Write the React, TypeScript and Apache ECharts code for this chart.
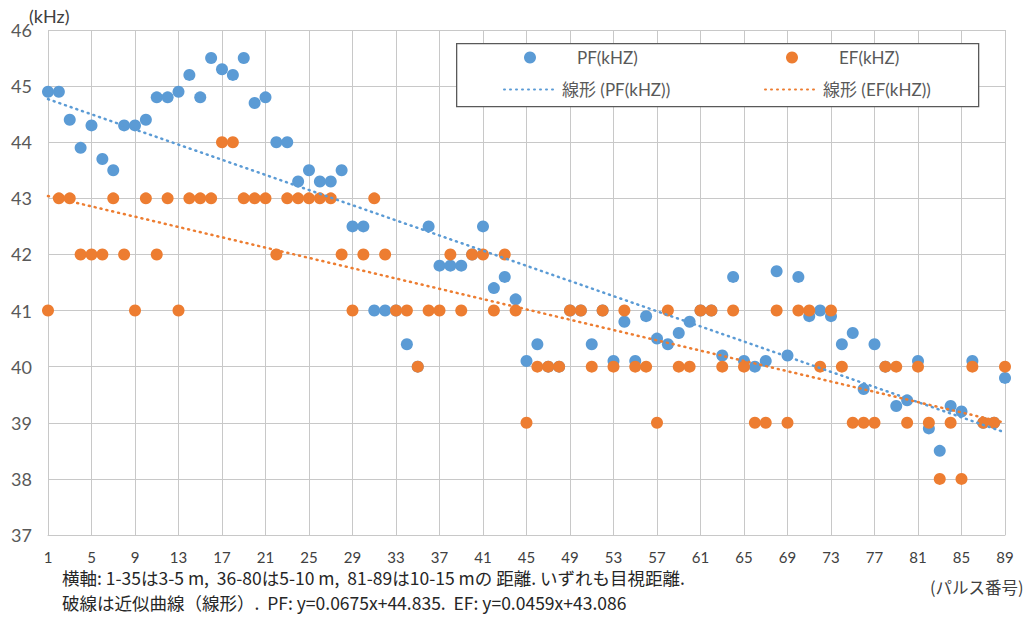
import React, { useEffect, useRef } from "react";
import * as echarts from "echarts";

// Pulse numbers (x categories)
const pulseLabels: string[] = Array.from({ length: 89 }, (_, i) => String(i + 1));

// PF (kHz) per pulse
const pfValues: number[] = [
  44.9, 44.9, 44.4, 43.9, 44.3, 43.7, 43.5, 44.3, 44.3, 44.4,
  44.8, 44.8, 44.9, 45.2, 44.8, 45.5, 45.3, 45.2, 45.5, 44.7,
  44.8, 44.0, 44.0, 43.3, 43.5, 43.3, 43.3, 43.5, 42.5, 42.5,
  41.0, 41.0, 41.0, 40.4, 40.0, 42.5, 41.8, 41.8, 41.8, 42.0,
  42.5, 41.4, 41.6, 41.2, 40.1, 40.4, 40.0, 40.0, 41.0, 41.0,
  40.4, 41.0, 40.1, 40.8, 40.1, 40.9, 40.5, 40.4, 40.6, 40.8,
  41.0, 41.0, 40.2, 41.6, 40.1, 40.0, 40.1, 41.7, 40.2, 41.6,
  40.9, 41.0, 40.9, 40.4, 40.6, 39.6, 40.4, 40.0, 39.3, 39.4,
  40.1, 38.9, 38.5, 39.3, 39.2, 40.1, 39.0, 39.0, 39.8,
];

// EF (kHz) per pulse
const efValues: number[] = [
  41, 43, 43, 42, 42, 42, 43, 42, 41, 43,
  42, 43, 41, 43, 43, 43, 44, 44, 43, 43,
  43, 42, 43, 43, 43, 43, 43, 42, 41, 42,
  43, 42, 41, 41, 40, 41, 41, 42, 41, 42,
  42, 41, 42, 41, 39, 40, 40, 40, 41, 41,
  40, 41, 40, 41, 40, 40, 39, 41, 40, 40,
  41, 41, 40, 41, 40, 39, 39, 41, 39, 41,
  41, 40, 41, 40, 39, 39, 39, 40, 40, 39,
  40, 39, 38, 39, 38, 40, 39, 39, 40,
];

// Linear trend coefficients (slope, intercept) as stated in the footnote
const pfTrend = [-0.0675, 44.835];
const efTrend = [-0.0459, 43.086];

const yTicks = { min: 37, max: 46, interval: 1 };

const seriesNames = ["PF(kHZ)", "EF(kHZ)", "線形 (PF(kHZ))", "線形 (EF(kHZ))"];

const noteLine1 = "横軸: 1-35は3-5 m,  36-80は5-10 m,  81-89は10-15 mの 距離. いずれも目視距離.";
const noteLine2 = "破線は近似曲線（線形）.  PF: y=0.0675x+44.835.  EF: y=0.0459x+43.086";
const yUnit = "(kHz)";
const xUnit = "(パルス番号)";

const BLUE = "#5B9BD5";
const ORANGE = "#ED7D31";
const FONT = "Lato, 'Noto Sans CJK JP', sans-serif";
const JPFONT = "'Noto Sans CJK JP', sans-serif";

function trendPoints(coef: number[]) {
  const first = 1;
  const last = pulseLabels.length;
  return [
    [String(first), coef[0] * first + coef[1]],
    [String(last), coef[0] * last + coef[1]],
  ];
}

export default function App() {
  const ref = useRef<HTMLDivElement>(null);
  useEffect(() => {
    if (!ref.current) return;
    const chart = echarts.init(ref.current, null, { renderer: "svg" });
    const textStyle = { fontSize: 17, color: "#595959", fontFamily: FONT };
    const dotLegend = {
      itemWidth: 12,
      itemHeight: 12,
      icon: "circle",
      padding: 0,
      selectedMode: false,
      textStyle: { ...textStyle, padding: [0, 0, 0, 36] },
    };
    const lineLegend = {
      itemWidth: 52,
      itemHeight: 12,
      padding: 0,
      selectedMode: false,
      itemStyle: { opacity: 0, borderWidth: 0 },
      textStyle: { ...textStyle, padding: [0, 0, 0, 1] },
    };
    const option: any = {
      animation: false,
      textStyle: { fontFamily: FONT },
      grid: { left: 48, right: 26, top: 30, bottom: 82, containLabel: false },
      xAxis: {
        type: "category",
        data: pulseLabels,
        boundaryGap: false,
        axisLine: { show: true, lineStyle: { color: "#c8c8c8" } },
        axisTick: { show: false },
        axisLabel: { interval: 3, color: "#404040", fontSize: 15, margin: 14, fontFamily: FONT },
        splitLine: { show: true, interval: 3, lineStyle: { color: "#c8c8c8", width: 1 } },
      },
      yAxis: {
        type: "value",
        min: yTicks.min,
        max: yTicks.max,
        interval: yTicks.interval,
        axisLine: { show: false },
        axisTick: { show: false },
        axisLabel: { color: "#595959", fontSize: 18, margin: 16, fontFamily: FONT },
        splitLine: { show: true, lineStyle: { color: "#c8c8c8", width: 1 } },
      },
      legend: [
        { ...dotLegend, data: [seriesNames[0]], left: 524, top: 49 },
        { ...dotLegend, data: [seriesNames[1]], left: 786, top: 49 },
        { ...lineLegend, data: [seriesNames[2]], left: 503, top: 81 },
        { ...lineLegend, data: [seriesNames[3]], left: 764, top: 81 },
      ],
      series: [
        {
          name: seriesNames[0],
          type: "scatter",
          data: pfValues,
          symbol: "circle",
          symbolSize: 12,
          itemStyle: { color: BLUE, opacity: 1 },
          z: 2,
        },
        {
          name: seriesNames[1],
          type: "scatter",
          data: efValues,
          symbol: "circle",
          symbolSize: 12,
          itemStyle: { color: ORANGE, opacity: 1 },
          z: 3,
        },
        {
          name: seriesNames[2],
          type: "line",
          data: trendPoints(pfTrend),
          symbol: "none",
          showSymbol: false,
          itemStyle: { color: BLUE },
          lineStyle: { color: BLUE, width: 2.5, type: [1, 5], cap: "round" },
          z: 4,
        },
        {
          name: seriesNames[3],
          type: "line",
          data: trendPoints(efTrend),
          symbol: "none",
          showSymbol: false,
          itemStyle: { color: ORANGE },
          lineStyle: { color: ORANGE, width: 2.5, type: [1, 5], cap: "round" },
          z: 4,
        },
      ],
      graphic: [
        {
          type: "rect",
          left: 456,
          top: 43,
          z: 3,
          shape: { width: 522, height: 63 },
          style: { fill: "#ffffff", stroke: "#595959", lineWidth: 1.3 },
        },
        {
          type: "text",
          left: 29,
          top: 7,
          style: { text: yUnit, fontSize: 18, fill: "#404040", fontFamily: FONT },
        },
        {
          type: "text",
          left: 62,
          top: 569,
          style: { text: noteLine1, fontSize: 17.5, fill: "#262626", fontFamily: JPFONT },
        },
        {
          type: "text",
          left: 62,
          top: 594,
          style: { text: noteLine2, fontSize: 17.5, fill: "#262626", fontFamily: JPFONT },
        },
        {
          type: "text",
          left: 930,
          top: 579,
          style: { text: xUnit, fontSize: 16.5, fill: "#404040", fontFamily: JPFONT },
        },
      ],
    };
    chart.setOption(option);
    return () => chart.dispose();
  }, []);
  return (
    <div
      ref={ref}
      style={{ position: "fixed", left: 0, top: 0, width: 1031, height: 617, background: "#fff" }}
    />
  );
}
